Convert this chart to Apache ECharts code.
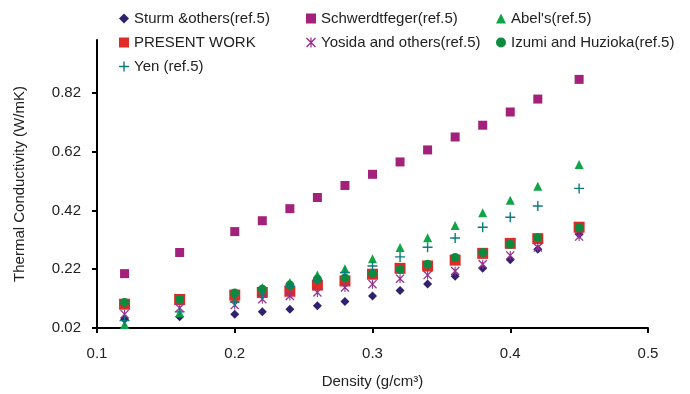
<!DOCTYPE html>
<html>
<head>
<meta charset="utf-8">
<script src="https://cdn.jsdelivr.net/npm/echarts@6/dist/echarts.min.js"></script>
<style>
  html, body { margin: 0; padding: 0; background: #fff; }
  #chart { width: 690px; height: 394px; }
</style>
</head>
<body>
<div id="chart"></div>
<script>
// Density values (g/cm3) shared by every series
const density = [0.12, 0.16, 0.20, 0.22, 0.24, 0.26, 0.28, 0.30, 0.32, 0.34, 0.36, 0.38, 0.40, 0.42, 0.45];

// Thermal conductivity (W/mK)
const sturm = [0.050, 0.058, 0.067, 0.075, 0.084, 0.096, 0.110, 0.129, 0.148, 0.170, 0.196, 0.223, 0.252, 0.288, 0.339];
const schwerdtfeger = [0.205, 0.277, 0.348, 0.385, 0.426, 0.464, 0.505, 0.543, 0.585, 0.626, 0.670, 0.710, 0.755, 0.799, 0.866];
const abel = [0.032, 0.072, 0.120, 0.158, 0.175, 0.200, 0.222, 0.256, 0.294, 0.327, 0.369, 0.412, 0.455, 0.502, 0.576];
const presentWork = [0.101, 0.117, 0.132, 0.141, 0.145, 0.166, 0.180, 0.203, 0.223, 0.231, 0.251, 0.274, 0.308, 0.324, 0.363];
const yosida = [0.067, 0.088, 0.098, 0.118, 0.129, 0.141, 0.158, 0.169, 0.188, 0.200, 0.214, 0.237, 0.267, 0.294, 0.331];
const izumi = [0.107, 0.118, 0.139, 0.152, 0.166, 0.186, 0.190, 0.206, 0.220, 0.237, 0.260, 0.277, 0.305, 0.327, 0.361];
const yen = [0.045, 0.075, 0.109, 0.132, 0.161, 0.180, 0.209, 0.231, 0.262, 0.295, 0.326, 0.363, 0.397, 0.435, 0.495];

const yTicks = [0.02, 0.22, 0.42, 0.62, 0.82];

const FONT = "'Liberation Sans', Arial, sans-serif";
const TEXT = "#222";
const PLUS = "path://M4.3,0H5.7V4.3H10V5.7H5.7V10H4.3V5.7H0V4.3H4.3Z";
const STAR = "path://M0,1L1,0L10,9L9,10Z M9,0L10,1L1,10L0,9Z M4.4,0H5.6V10H4.4Z";

function pairs(values) {
  return density.map((d, i) => [d, values[i]]);
}

const chart = echarts.init(document.getElementById("chart"), null, { renderer: "canvas" });

const legendBase = {
  orient: "vertical",
  top: 11,
  padding: 0,
  itemGap: 9,
  itemWidth: 10,
  itemHeight: 10,
  textStyle: { fontFamily: FONT, fontSize: 15, color: TEXT },
};

const option = {
  animation: false,
  backgroundColor: "#fff",
  grid: { left: 97, right: 42, top: 40, bottom: 65 },
  legend: [
    { ...legendBase, left: 119, data: ["Sturm &others(ref.5)", "PRESENT WORK", "Yen (ref.5)"] },
    { ...legendBase, left: 306, data: ["Schwerdtfeger(ref.5)", "Yosida and others(ref.5)"] },
    { ...legendBase, left: 496, data: ["Abel's(ref.5)", "Izumi and Huzioka(ref.5)"] },
  ],
  xAxis: {
    type: "value",
    min: 0.1,
    max: 0.5,
    interval: 0.1,
    name: "Density (g/cm³)",
    nameLocation: "middle",
    nameGap: 46,
    nameTextStyle: { fontFamily: FONT, fontSize: 15, color: TEXT },
    axisLine: { lineStyle: { color: "#000", width: 2 } },
    axisTick: { show: true, length: 5, lineStyle: { color: "#000", width: 2 } },
    axisLabel: { fontFamily: FONT, fontSize: 15, color: TEXT, margin: 18 },
    splitLine: { show: false },
  },
  yAxis: {
    type: "value",
    min: 0.02,
    max: 1.0,
    name: "Thermal Conductivity (W/mK)",
    nameLocation: "middle",
    nameGap: 70,
    nameTextStyle: { fontFamily: FONT, fontSize: 15, color: TEXT },
    axisLine: { show: true, lineStyle: { color: "#000", width: 2 } },
    axisTick: { show: true, length: 5, customValues: yTicks, lineStyle: { color: "#000", width: 2 } },
    axisLabel: {
      fontFamily: FONT, fontSize: 15, color: TEXT, margin: 16,
      customValues: yTicks,
      formatter: (v) => v.toFixed(2),
    },
    splitLine: { show: false },
  },
  series: [
    { name: "Sturm &others(ref.5)", type: "scatter", symbol: "diamond", symbolSize: 9,
      itemStyle: { color: "#30206e", opacity: 1 }, data: pairs(sturm) },
    { name: "Schwerdtfeger(ref.5)", type: "scatter", symbol: "rect", symbolSize: 9,
      itemStyle: { color: "#a3217a", opacity: 1 }, data: pairs(schwerdtfeger) },
    { name: "Abel's(ref.5)", type: "scatter", symbol: "triangle", symbolSize: 9,
      itemStyle: { color: "#12a548", opacity: 1 }, data: pairs(abel) },
    { name: "PRESENT WORK", type: "scatter", symbol: "rect", symbolSize: 11,
      itemStyle: { color: "#e02a27", opacity: 1 }, data: pairs(presentWork) },
    { name: "Yosida and others(ref.5)", type: "scatter", symbol: STAR, symbolSize: 9,
      itemStyle: { color: "#95318f", opacity: 1 }, data: pairs(yosida) },
    { name: "Izumi and Huzioka(ref.5)", type: "scatter", symbol: "circle", symbolSize: 9,
      itemStyle: { color: "#0c8a3e", opacity: 1 }, data: pairs(izumi) },
    { name: "Yen (ref.5)", type: "scatter", symbol: PLUS, symbolSize: 10,
      itemStyle: { color: "#0c7c7c", opacity: 1 }, data: pairs(yen) },
  ],
};

chart.setOption(option);
</script>
</body>
</html>
